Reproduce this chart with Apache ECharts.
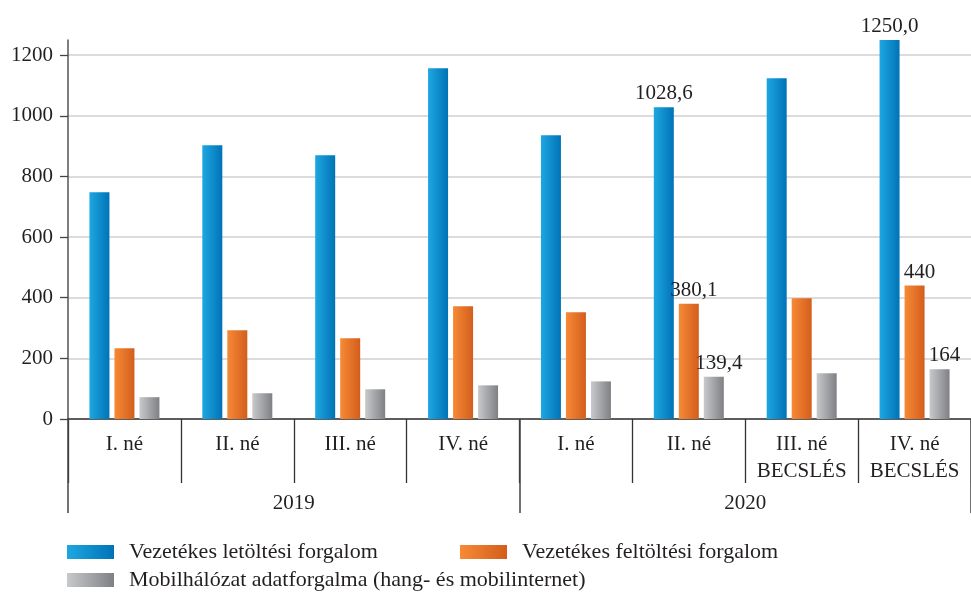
<!DOCTYPE html>
<html>
<head>
<meta charset="utf-8">
<script src="https://cdn.jsdelivr.net/npm/echarts@6/dist/echarts.min.js"></script>
<style>
  html, body { margin: 0; padding: 0; background: #fff; }
  #chart { width: 971px; height: 595px; }
</style>
</head>
<body>
<div id="chart"></div>
<script>
const quarters = ['I. né', 'II. né', 'III. né', 'IV. né', 'I. né', 'II. né', 'III. né\nBECSLÉS', 'IV. né\nBECSLÉS']
const years = ['2019', '2020']
const download = [748, 903, 870, 1157, 936, 1028.6, 1124, 1250]
const upload = [233, 293, 266, 372, 352, 380.1, 398, 440]
const mobile = [72, 85, 98, 111, 124, 139.4, 151, 164]
const downloadLabels = ['', '', '', '', '', '1028,6', '', '1250,0']
const uploadLabels = ['', '', '', '', '', '380,1', '', '440']
const mobileLabels = ['', '', '', '', '', '139,4', '', '164']
const yTicks = [0, 200, 400, 600, 800, 1000, 1200]

const FONT = 'Liberation Serif'
const TEXT = '#231f20'

const chart = echarts.init(document.getElementById('chart'))

function grad(a, b) {
  return new echarts.graphic.LinearGradient(0, 0, 1, 0, [
    { offset: 0, color: a },
    { offset: 1, color: b }
  ])
}

function barSeries(name, data, labels, colors, offset) {
  return {
    name: name,
    type: 'bar',
    barWidth: 20,
    barGap: '25%',
    data: data,
    itemStyle: { color: grad(colors[0], colors[1]) },
    label: {
      show: true,
      position: 'top',
      distance: 3,
      offset: offset,
      fontFamily: FONT,
      fontSize: 21,
      color: TEXT,
      formatter: p => labels[p.dataIndex]
    }
  }
}

const legendBase = {
  icon: 'rect',
  itemWidth: 47,
  itemHeight: 14,
  padding: 0,
  selectedMode: false,
  textStyle: { fontFamily: FONT, fontSize: 22, color: TEXT, padding: [0, 0, 0, 10] }
}

const option = {
  animation: false,
  backgroundColor: '#fff',
  grid: { left: 68, right: 0, top: 40, bottom: 176 },
  legend: [
    Object.assign({ left: 67, top: 541, data: ['Vezetékes letöltési forgalom'] }, legendBase),
    Object.assign({ left: 460, top: 541, data: ['Vezetékes feltöltési forgalom'] }, legendBase),
    Object.assign({ left: 67, top: 569, data: ['Mobilhálózat adatforgalma (hang- és mobilinternet)'] }, legendBase)
  ],
  xAxis: [
    {
      type: 'category',
      data: quarters,
      position: 'bottom',
      axisLine: { lineStyle: { color: '#333', width: 1.5 } },
      axisTick: { show: true, interval: 0, length: 64, lineStyle: { color: '#333', width: 1.3 } },
      axisLabel: { interval: 0, margin: 12, lineHeight: 27, fontFamily: FONT, fontSize: 21, color: TEXT }
    },
    {
      type: 'category',
      data: years,
      position: 'bottom',
      axisLine: { show: false },
      axisTick: { show: true, interval: 0, length: 94, lineStyle: { color: '#444', width: 1.5 } },
      axisLabel: { interval: 0, margin: 71, lineHeight: 26, fontFamily: FONT, fontSize: 21, color: TEXT }
    }
  ],
  yAxis: {
    type: 'value',
    min: 0,
    max: 1250,
    interval: 200,
    axisLine: { show: true, lineStyle: { color: '#555', width: 1.5 } },
    axisTick: { show: true, length: 8, customValues: yTicks, lineStyle: { color: '#444', width: 1.3 } },
    axisLabel: {
      customValues: yTicks,
      margin: 15,
      fontFamily: FONT,
      fontSize: 21,
      color: TEXT,
      formatter: v => String(v)
    },
    splitLine: { lineStyle: { color: '#dcdcdc', width: 2 } }
  },
  series: [
    barSeries('Vezetékes letöltési forgalom', download, downloadLabels, ['#1ea7e0', '#0073b7'], [0, 0]),
    barSeries('Vezetékes feltöltési forgalom', upload, uploadLabels, ['#f68a36', '#d35e1c'], [5, 0]),
    barSeries('Mobilhálózat adatforgalma (hang- és mobilinternet)', mobile, mobileLabels, ['#c8c9cb', '#7f8084'], [5, 0])
  ]
}

chart.setOption(option)
</script>
</body>
</html>
